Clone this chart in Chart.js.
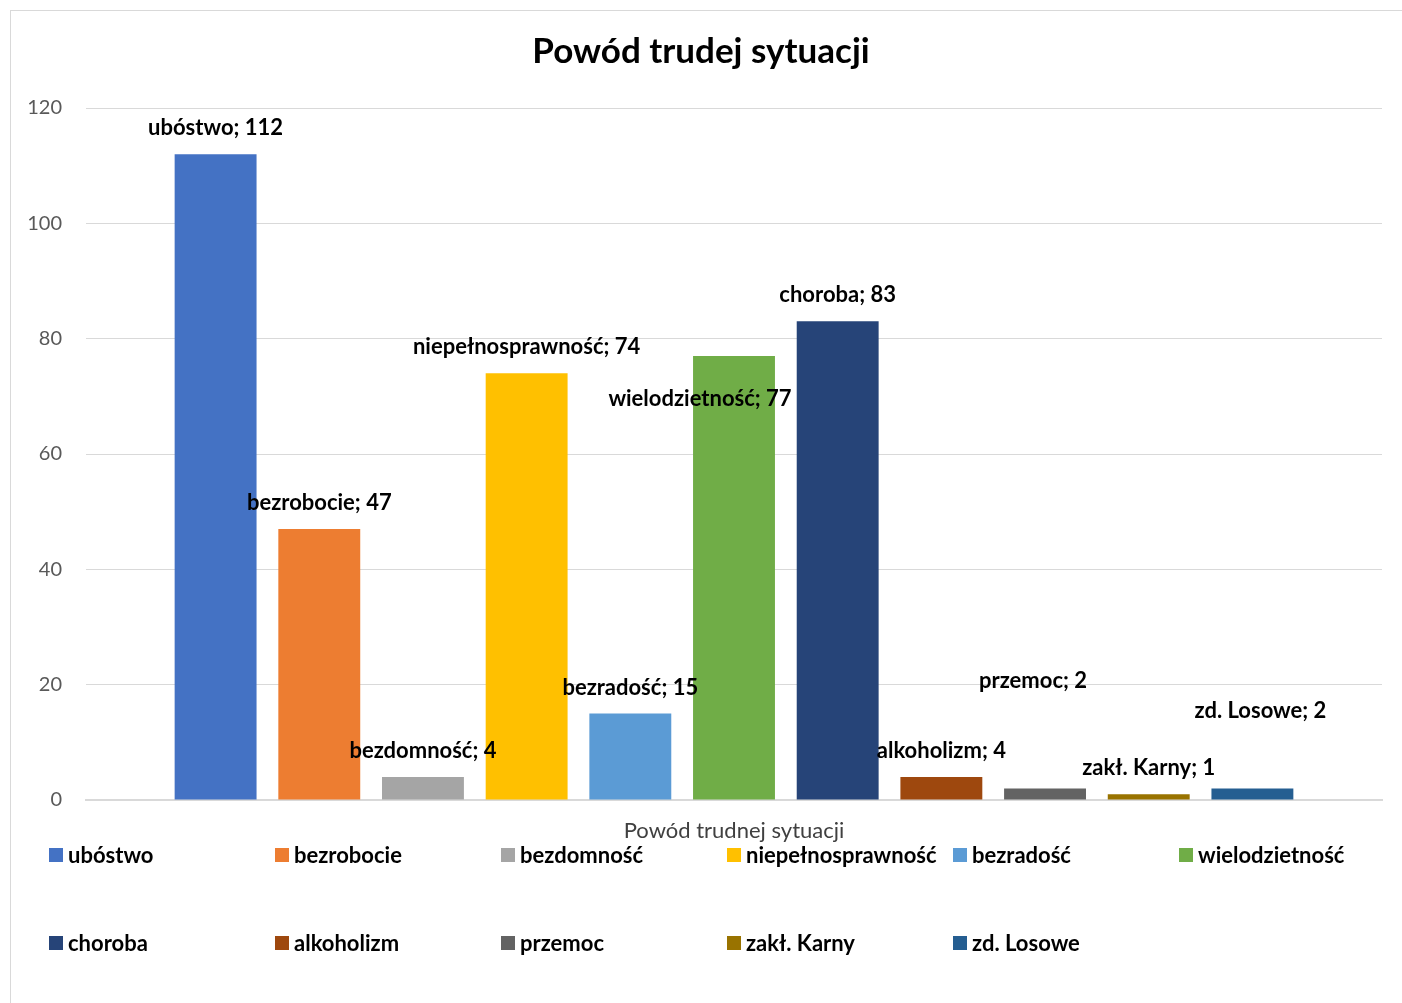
<!DOCTYPE html>
<html>
<head>
<meta charset="utf-8">
<script src="https://cdn.jsdelivr.net/npm/chart.js@4"></script>
<style>
  html, body { margin: 0; padding: 0; background: #fff; }
  #wrap { position: relative; width: 1402px; height: 1003px; }
  #frame { position: absolute; left: 10px; top: 10px; width: 1420px; height: 1020px; border-left: 1px solid #d9d9d9; border-top: 1px solid #d9d9d9; box-sizing: border-box; pointer-events: none; }
  canvas { position: absolute; left: 0; top: 0; }
</style>
</head>
<body>
<div id="wrap">
  <canvas id="c" width="1402" height="1003"></canvas>
  <div id="frame"></div>
</div>
<script>
const chartTitle = "Powód trudej sytuacji";
const categories = ["Powód trudnej sytuacji"];
const seriesNames = ["ubóstwo", "bezrobocie", "bezdomność", "niepełnosprawność", "bezradość", "wielodzietność", "choroba", "alkoholizm", "przemoc", "zakł. Karny", "zd. Losowe"];
const seriesValues = [112, 47, 4, 74, 15, 77, 83, 4, 2, 1, 2];
const seriesColors = ["#4472C4", "#ED7D31", "#A5A5A5", "#FFC000", "#5B9BD5", "#70AD47", "#264478", "#9E480E", "#636363", "#997300", "#255E91"];
const yTicks = [0, 20, 40, 60, 80, 100, 120];
// manual data-label nudges (pixels) as placed in the original
const labelNudge = [[0,0],[0,0],[0,0],[0,0],[0,0],[-34,69],[0,0],[0,0],[-12,-82],[0,0],[8,-52]];

const FONT = "Lato, 'Open Sans', sans-serif";

const datasets = seriesNames.map((n, i) => ({
  label: n,
  data: [seriesValues[i]],
  backgroundColor: seriesColors[i],
  borderWidth: 0
}));

const titlePlugin = {
  id: 'centerTitle',
  afterDraw(chart) {
    const ctx = chart.ctx;
    ctx.save();
    ctx.font = "bold 35px " + FONT;
    ctx.fillStyle = "#000";
    ctx.textAlign = "center";
    ctx.textBaseline = "middle";
    ctx.fillText(chartTitle, 701, 52);
    ctx.restore();
  }
};

const labelPlugin = {
  id: 'barLabels',
  afterDatasetsDraw(chart) {
    const ctx = chart.ctx;
    ctx.save();
    ctx.font = "bold 22px " + FONT;
    ctx.fillStyle = "#000";
    ctx.textAlign = "center";
    ctx.textBaseline = "middle";
    chart.data.datasets.forEach((ds, i) => {
      const el = chart.getDatasetMeta(i).data[0];
      const [dx, dy] = labelNudge[i];
      ctx.fillText(ds.label + "; " + ds.data[0], el.x + dx, el.y - 26 + dy);
    });
    ctx.restore();
  }
};

const legendPlugin = {
  id: 'gridLegend',
  afterDraw(chart) {
    const ctx = chart.ctx;
    ctx.save();
    ctx.font = "bold 22px " + FONT;
    ctx.textBaseline = "middle";
    ctx.textAlign = "left";
    chart.data.datasets.forEach((ds, i) => {
      const col = i % 6, row = Math.floor(i / 6);
      const x = 49 + col * 226;
      const y = 855 + row * 88;
      ctx.fillStyle = ds.backgroundColor;
      ctx.fillRect(x, y - 7, 14, 14);
      ctx.fillStyle = "#000";
      ctx.fillText(ds.label, x + 19, y + 1);
    });
    ctx.restore();
  }
};

new Chart(document.getElementById('c'), {
  type: 'bar',
  data: { labels: categories, datasets },
  plugins: [labelPlugin, legendPlugin, titlePlugin],
  options: {
    responsive: false,
    animation: false,
    devicePixelRatio: 1,
    layout: { padding: { left: 0, right: 20, top: 108, bottom: 155 } },
    categoryPercentage: 0.88,
    barPercentage: 0.79,
    plugins: {
      legend: { display: false },
      tooltip: { enabled: false },
      title: { display: false }
    },
    scales: {
      x: {
        grid: { display: false, drawTicks: false },
        border: { display: true, color: "#d9d9d9", width: 2 },
        ticks: { color: "#404040", font: { family: FONT, size: 22 }, padding: 18 },
        afterFit(s) { s.height = 48; }
      },
      y: {
        min: 0, max: 120,
        afterBuildTicks(s) { s.ticks = yTicks.map(v => ({ value: v })); },
        grid: { color: "#d9d9d9", lineWidth: 1, drawTicks: false },
        border: { display: false },
        ticks: { color: "#595959", font: { family: FONT, size: 20 }, padding: 24 },
        afterFit(s) { s.width = 86; }
      }
    }
  }
});
</script>
</body>
</html>
